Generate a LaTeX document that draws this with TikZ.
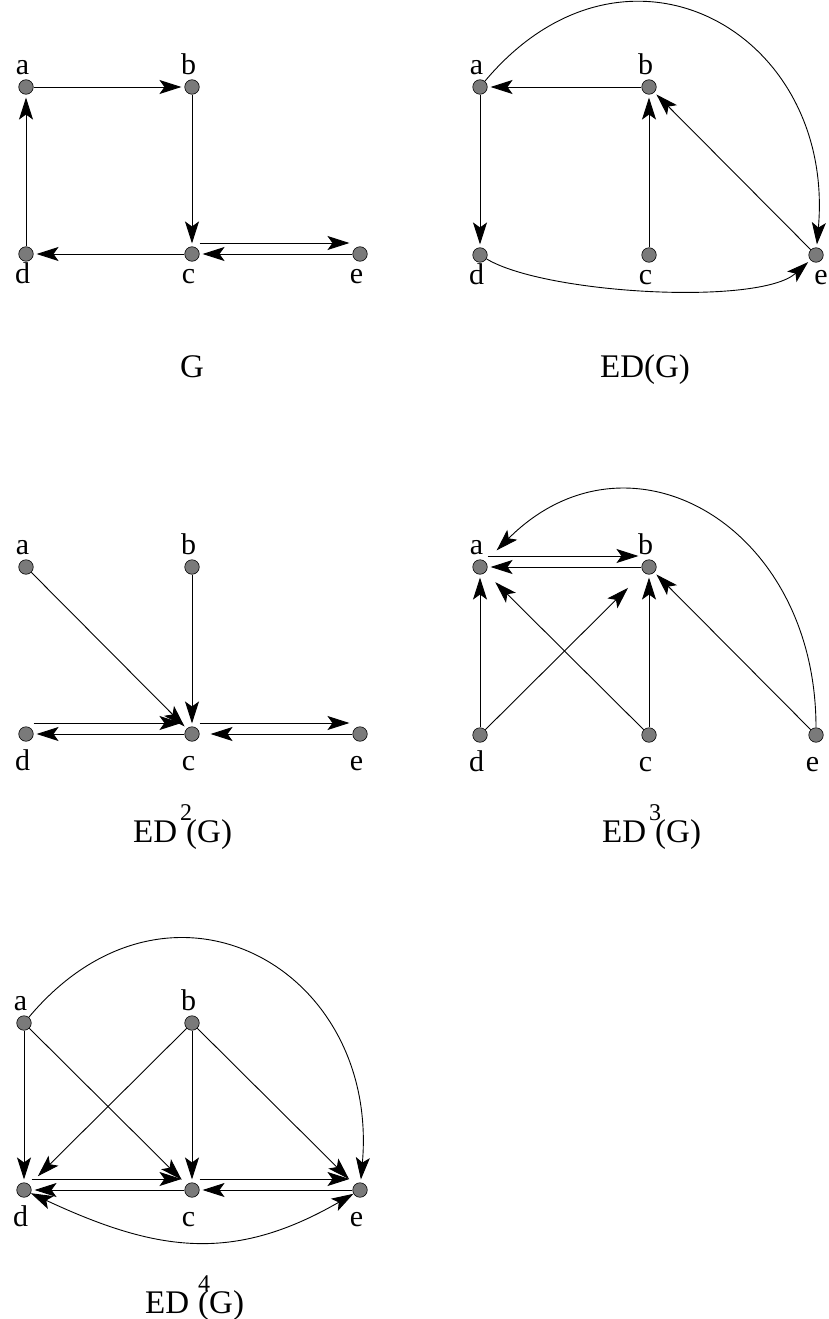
\documentclass[tikz,border=0pt]{standalone}
\usepackage{fontspec}
\setmainfont{Liberation Serif}
\usepackage{tikz}
\usetikzlibrary{arrows.meta}
\newcommand{\vfont}{\fontsize{30}{30}\selectfont}
\newcommand{\capfont}{\fontsize{33}{33}\selectfont}
\newcommand{\edpow}[2][3pt]{ED\makebox[9pt][l]{\kern#1\raisebox{22pt}{\fontsize{24}{24}\selectfont #2}}(G)}
\tikzset{
  vertex/.style   = {circle, draw=black, fill=black!52, line width=0.6pt,
                     minimum size=14.5pt, inner sep=0pt},
  vlabel/.style   = {font=\vfont, inner sep=0pt, text height=20.5pt,
                     text depth=0pt, xshift=-3.5pt},
  tagup/.style    = {label={[vlabel, label distance=4.4pt]above:#1}},
  tagdown/.style  = {label={[vlabel, label distance=7.9pt]below:#1}},
  tagclose/.style = {label={[vlabel, label distance=1pt]below:#1}},
  link/.style     = {-{Stealth[length=22pt,width=14pt,inset=5pt]},
                     line width=0.9pt, shorten >=3pt},
  dlink/.style    = {{Stealth[length=22pt,width=14pt,inset=5pt]}-{Stealth[length=22pt,width=14pt,inset=5pt]},
                     line width=0.9pt},
  gname/.style    = {font=\capfont, inner sep=0pt, anchor=base},
}

\begin{document}
\begin{tikzpicture}[x=1pt, y=1pt]
\useasboundingbox (0,0) rectangle (828,-1319);

% G
\node[vertex, tagup=a]    (a0) at (26,-87)   {};
\node[vertex, tagup=b]    (b0) at (192,-87)  {};
\node[vertex, tagclose=c] (c0) at (192,-254) {};
\node[vertex, tagclose=d] (d0) at (26,-254)  {};
\node[vertex, tagclose=e] (e0) at (360,-254) {};
\draw[link] (a0) -- (b0);
\draw[link] (b0) -- (c0);
\draw[link] (c0) -- (d0);
\draw[link] (d0) -- (a0);
\draw[link] ([yshift=11pt]c0.east) -- ([yshift=11pt]e0.west);
\draw[link] (e0) -- (c0);
\node[gname] (g0) at (192,-377) {G};

% ED(G)
\node[vertex, tagup=a]    (a1) at (480,-87)  {};
\node[vertex, tagup=b]    (b1) at (649,-87)  {};
\node[vertex, tagclose=c] (c1) at (649,-255) {};
\node[vertex, tagclose=d] (d1) at (480,-255) {};
\node[vertex, label={[vlabel, xshift=8.5pt, label distance=1pt]below:e}] (e1) at (816,-255) {};
\draw[link] (b1) -- (a1);
\draw[link] (a1) -- (d1);
\draw[link] (c1) -- (b1);
\draw[link] (e1) -- (b1);
\draw[link] (a1) to[out=50, in=85, looseness=1.5] (e1);
\draw[link] (d1) to[out=-31, in=-138, looseness=0.54] (e1);
\node[gname] (g1) at (645,-377) {ED(G)};

% ED^2(G)
\node[vertex, tagup=a]   (a2) at (26,-567)  {};
\node[vertex, tagup=b]   (b2) at (192,-567) {};
\node[vertex, tagdown=c] (c2) at (192,-734) {};
\node[vertex, tagdown=d] (d2) at (26,-734)  {};
\node[vertex, tagdown=e] (e2) at (360,-734) {};
\draw[link] (a2) -- (c2);
\draw[link] (b2) -- (c2);
\draw[link] ([yshift=11pt]d2.east) -- ([yshift=11pt]c2.west);
\draw[link] (c2) -- (d2);
\draw[link] ([yshift=11pt]c2.east) -- ([yshift=11pt]e2.west);
\draw[link, shorten >=11pt] (e2) -- (c2);
\node[gname, anchor=base west] (g2) at (133,-842) {\edpow{2}};

% ED^3(G)
\node[vertex, tagup=a]   (a3) at (480,-567) {};
\node[vertex, tagup=b]   (b3) at (649,-567) {};
\node[vertex, tagdown=c] (c3) at (649,-735) {};
\node[vertex, tagdown=d] (d3) at (480,-735) {};
\node[vertex, tagdown=e] (e3) at (816,-735) {};
\draw[link] ([yshift=11pt]a3.east) -- ([yshift=11pt]b3.west);
\draw[link] (b3) -- (a3);
\draw[link] (d3) -- (a3);
\draw[link, shorten >=22pt] (d3) -- (b3);
\draw[link, shorten >=14pt] (c3) -- (a3);
\draw[link] (c3) -- (b3);
\draw[link] (e3) -- (b3);
\draw[link, shorten >=16pt] (e3) to[out=90, in=45, looseness=1.4] (a3);
\node[gname, anchor=base west] (g3) at (602,-842) {\edpow{3}};

% ED^4(G)
\node[vertex, tagup=a]   (a4) at (24,-1023)  {};
\node[vertex, tagup=b]   (b4) at (192,-1023) {};
\node[vertex, tagdown=c] (c4) at (192,-1190) {};
\node[vertex, tagdown=d] (d4) at (24,-1190)  {};
\node[vertex, tagdown=e] (e4) at (360,-1190) {};
\draw[link] (a4) -- (d4);
\draw[link, shorten >=7pt] (a4) -- (c4);
\draw[link, shorten >=12pt] (b4) -- (d4);
\draw[link] (b4) -- (c4);
\draw[link, shorten >=8pt] (b4) -- (e4);
\draw[link] (a4) to[out=50, in=85, looseness=1.5] (e4);
\draw[dlink] (d4) to[out=-25, in=-150, looseness=1.1] (e4);
\draw[link] ([yshift=11pt]d4.east) -- ([yshift=11pt]c4.west);
\draw[link] (c4) -- (d4);
\draw[link] ([yshift=11pt]c4.east) -- ([yshift=11pt]e4.west);
\draw[link] (e4) -- (c4);
\node[gname, anchor=base west] (g4) at (145,-1313) {\edpow[9pt]{4}};
\end{tikzpicture}
\end{document}
